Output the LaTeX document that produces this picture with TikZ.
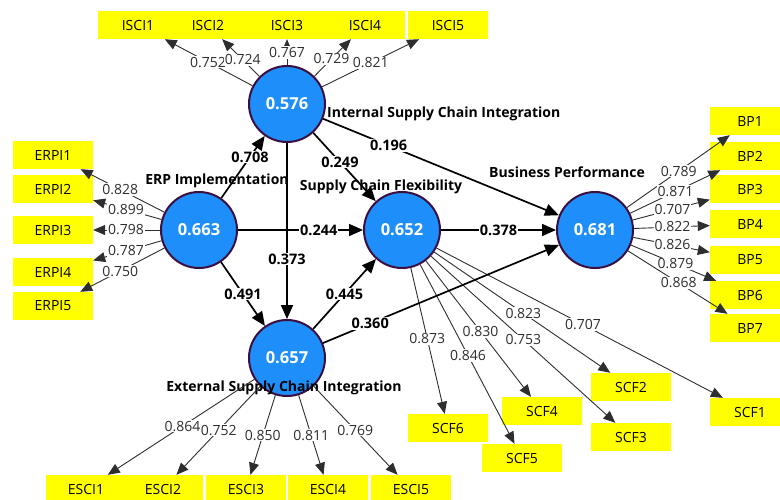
\documentclass[tikz,border=0pt]{standalone}
\usepackage{fontspec}
\setmainfont{Open Sans}
\usetikzlibrary{arrows.meta,calc}
\definecolor{lvblue}{HTML}{1E8FFA}
\definecolor{lvring}{HTML}{3A0F40}
\definecolor{mvyellow}{HTML}{FFFF00}
\definecolor{linegray}{HTML}{2E2E2E}

\begin{document}
\begin{tikzpicture}[x=1pt,y=-1pt,
  latent/.style={circle,draw=lvring,line width=2pt,fill=lvblue,minimum size=76pt,inner sep=0pt,text=white,font=\fontsize{16.5}{18}\selectfont\bfseries},
  indicator/.style={fill=mvyellow,minimum width=80pt,minimum height=28pt,inner sep=0pt,font=\fontsize{14}{16}\selectfont},
  lvtitle/.style={inner sep=0pt,font=\fontsize{14}{16}\selectfont\bfseries},
  loading/.style={draw=linegray,line width=0.9pt,-{Triangle[length=12pt,width=10pt]}},
  structural/.style={draw=black,line width=1.7pt,-{Triangle[length=14pt,width=12pt]}},
  lval/.style={fill=white,inner sep=1pt,font=\fontsize{14}{16}\selectfont,text=linegray},
  pval/.style={fill=white,inner sep=1pt,font=\fontsize{14.5}{16}\selectfont\bfseries}]
\useasboundingbox (0,0) rectangle (780,499);
\node[latent] (isc) at (287,104) {0.576};
\node[latent] (erp) at (199,230) {0.663};
\node[latent] (scf) at (402,230) {0.652};
\node[latent] (bp) at (595,230) {0.681};
\node[latent] (esc) at (287,358) {0.657};
\node[lvtitle,anchor=west] (isctitle) at (327,114) {Internal Supply Chain Integration};
\node[lvtitle] (erptitle) at (217,181) {ERP Implementation};
\node[lvtitle] (scftitle) at (381,187) {Supply Chain Flexibility};
\node[lvtitle] (bptitle) at (567,172) {Business Performance};
\node[lvtitle] (esctitle) at (284,388) {External Supply Chain Integration};
\node[indicator] (isci1) at (138,25) {ISCI1};
\node[indicator] (isci2) at (208,25) {ISCI2};
\node[indicator] (isci3) at (287,25) {ISCI3};
\node[indicator] (isci4) at (365,25) {ISCI4};
\node[indicator] (isci5) at (448,25) {ISCI5};
\node[indicator] (erpi1) at (53,155) {ERPI1};
\node[indicator] (erpi2) at (53,189) {ERPI2};
\node[indicator] (erpi3) at (53,230) {ERPI3};
\node[indicator] (erpi4) at (53,272) {ERPI4};
\node[indicator] (erpi5) at (53,306) {ERPI5};
\node[indicator] (bp1) at (750,121) {BP1};
\node[indicator] (bp2) at (750,156) {BP2};
\node[indicator] (bp3) at (750,189) {BP3};
\node[indicator] (bp4) at (750,224) {BP4};
\node[indicator] (bp5) at (750,260) {BP5};
\node[indicator] (bp6) at (750,295) {BP6};
\node[indicator] (bp7) at (750,328) {BP7};
\node[indicator] (esci1) at (86,489) {ESCI1};
\node[indicator] (esci2) at (163,489) {ESCI2};
\node[indicator] (esci3) at (246,489) {ESCI3};
\node[indicator] (esci4) at (328,489) {ESCI4};
\node[indicator] (esci5) at (411,489) {ESCI5};
\node[indicator] (scf1) at (750,412) {SCF1};
\node[indicator] (scf2) at (631,387) {SCF2};
\node[indicator] (scf3) at (631,437) {SCF3};
\node[indicator] (scf4) at (542,411) {SCF4};
\node[indicator] (scf5) at (522,458) {SCF5};
\node[indicator] (scf6) at (448,428) {SCF6};
\draw[loading] (isc) -- (isci1);
\node[lval] at ($(isc)!0.53!(isci1)$) {0.752};
\draw[loading] (isc) -- (isci2);
\node[lval] at ($(isc)!0.56!(isci2)$) {0.724};
\draw[loading] (isc) -- (isci3);
\node[lval] at ($(isc)!0.65!(isci3)$) {0.767};
\draw[loading] (isc) -- (isci4);
\node[lval] at ($(isc)!0.57!(isci4)$) {0.729};
\draw[loading] (isc) -- (isci5);
\node[lval] at ($(isc)!0.52!(isci5)$) {0.821};
\draw[loading] (erp) -- (erpi1);
\node[lval] at ($(erp)!0.54!(erpi1)$) {0.828};
\draw[loading] (erp) -- (erpi2);
\node[lval] at ($(erp)!0.5!(erpi2)$) {0.899};
\draw[loading] (erp) -- (erpi3);
\node[lval] at ($(erp)!0.5!(erpi3)$) {0.798};
\draw[loading] (erp) -- (erpi4);
\node[lval] at ($(erp)!0.5!(erpi4)$) {0.787};
\draw[loading] (erp) -- (erpi5);
\node[lval] at ($(erp)!0.54!(erpi5)$) {0.750};
\draw[loading] (bp) -- (bp1);
\node[lval] at ($(bp)!0.54!(bp1)$) {0.789};
\draw[loading] (bp) -- (bp2);
\node[lval] at ($(bp)!0.52!(bp2)$) {0.871};
\draw[loading] (bp) -- (bp3);
\node[lval] at ($(bp)!0.5!(bp3)$) {0.707};
\draw[loading] (bp) -- (bp4);
\node[lval] at ($(bp)!0.5!(bp4)$) {0.822};
\draw[loading] (bp) -- (bp5);
\node[lval] at ($(bp)!0.5!(bp5)$) {0.826};
\draw[loading] (bp) -- (bp6);
\node[lval] at ($(bp)!0.52!(bp6)$) {0.879};
\draw[loading] (bp) -- (bp7);
\node[lval] at ($(bp)!0.54!(bp7)$) {0.868};
\draw[loading] (esc) -- (esci1);
\node[lval] at ($(esc)!0.52!(esci1)$) {0.864};
\draw[loading] (esc) -- (esci2);
\node[lval] at ($(esc)!0.55!(esci2)$) {0.752};
\draw[loading] (esc) -- (esci3);
\node[lval] at ($(esc)!0.59!(esci3)$) {0.850};
\draw[loading] (esc) -- (esci4);
\node[lval] at ($(esc)!0.59!(esci4)$) {0.811};
\draw[loading] (esc) -- (esci5);
\node[lval] at ($(esc)!0.55!(esci5)$) {0.769};
\draw[loading] (scf) -- (scf1);
\node[lval] at ($(scf)!0.52!(scf1)$) {0.707};
\draw[loading] (scf) -- (scf2);
\node[lval] at ($(scf)!0.53!(scf2)$) {0.823};
\draw[loading] (scf) -- (scf3);
\node[lval] at ($(scf)!0.53!(scf3)$) {0.753};
\draw[loading] (scf) -- (scf4);
\node[lval] at ($(scf)!0.56!(scf4)$) {0.830};
\draw[loading] (scf) -- (scf5);
\node[lval] at ($(scf)!0.55!(scf5)$) {0.846};
\draw[loading] (scf) -- (scf6);
\node[lval] at ($(scf)!0.55!(scf6)$) {0.873};
\draw[structural] (erp) -- (isc);
\node[pval] at ($(erp)!0.58!(isc)$) {0.708};
\draw[structural] (erp) -- (scf);
\node[pval] at ($(erp)!0.59!(scf)$) {0.244};
\draw[structural] (erp) -- (esc);
\node[pval] at ($(erp)!0.5!(esc)$) {0.491};
\draw[structural] (isc) -- (scf);
\node[pval] at ($(isc)!0.46!(scf)$) {0.249};
\draw[structural] (isc) -- (bp);
\node[pval] at ($(isc)!0.33!(bp)$) {0.196};
\draw[structural] (isc) -- (esc);
\node[pval] at ($(isc)!0.61!(esc)$) {0.373};
\draw[structural] (esc) -- (scf);
\node[pval] at ($(esc)!0.5!(scf)$) {0.445};
\draw[structural] (esc) -- (bp);
\node[pval] at ($(esc)!0.27!(bp)$) {0.360};
\draw[structural] (scf) -- (bp);
\node[pval] at ($(scf)!0.5!(bp)$) {0.378};
\end{tikzpicture}
\end{document}
